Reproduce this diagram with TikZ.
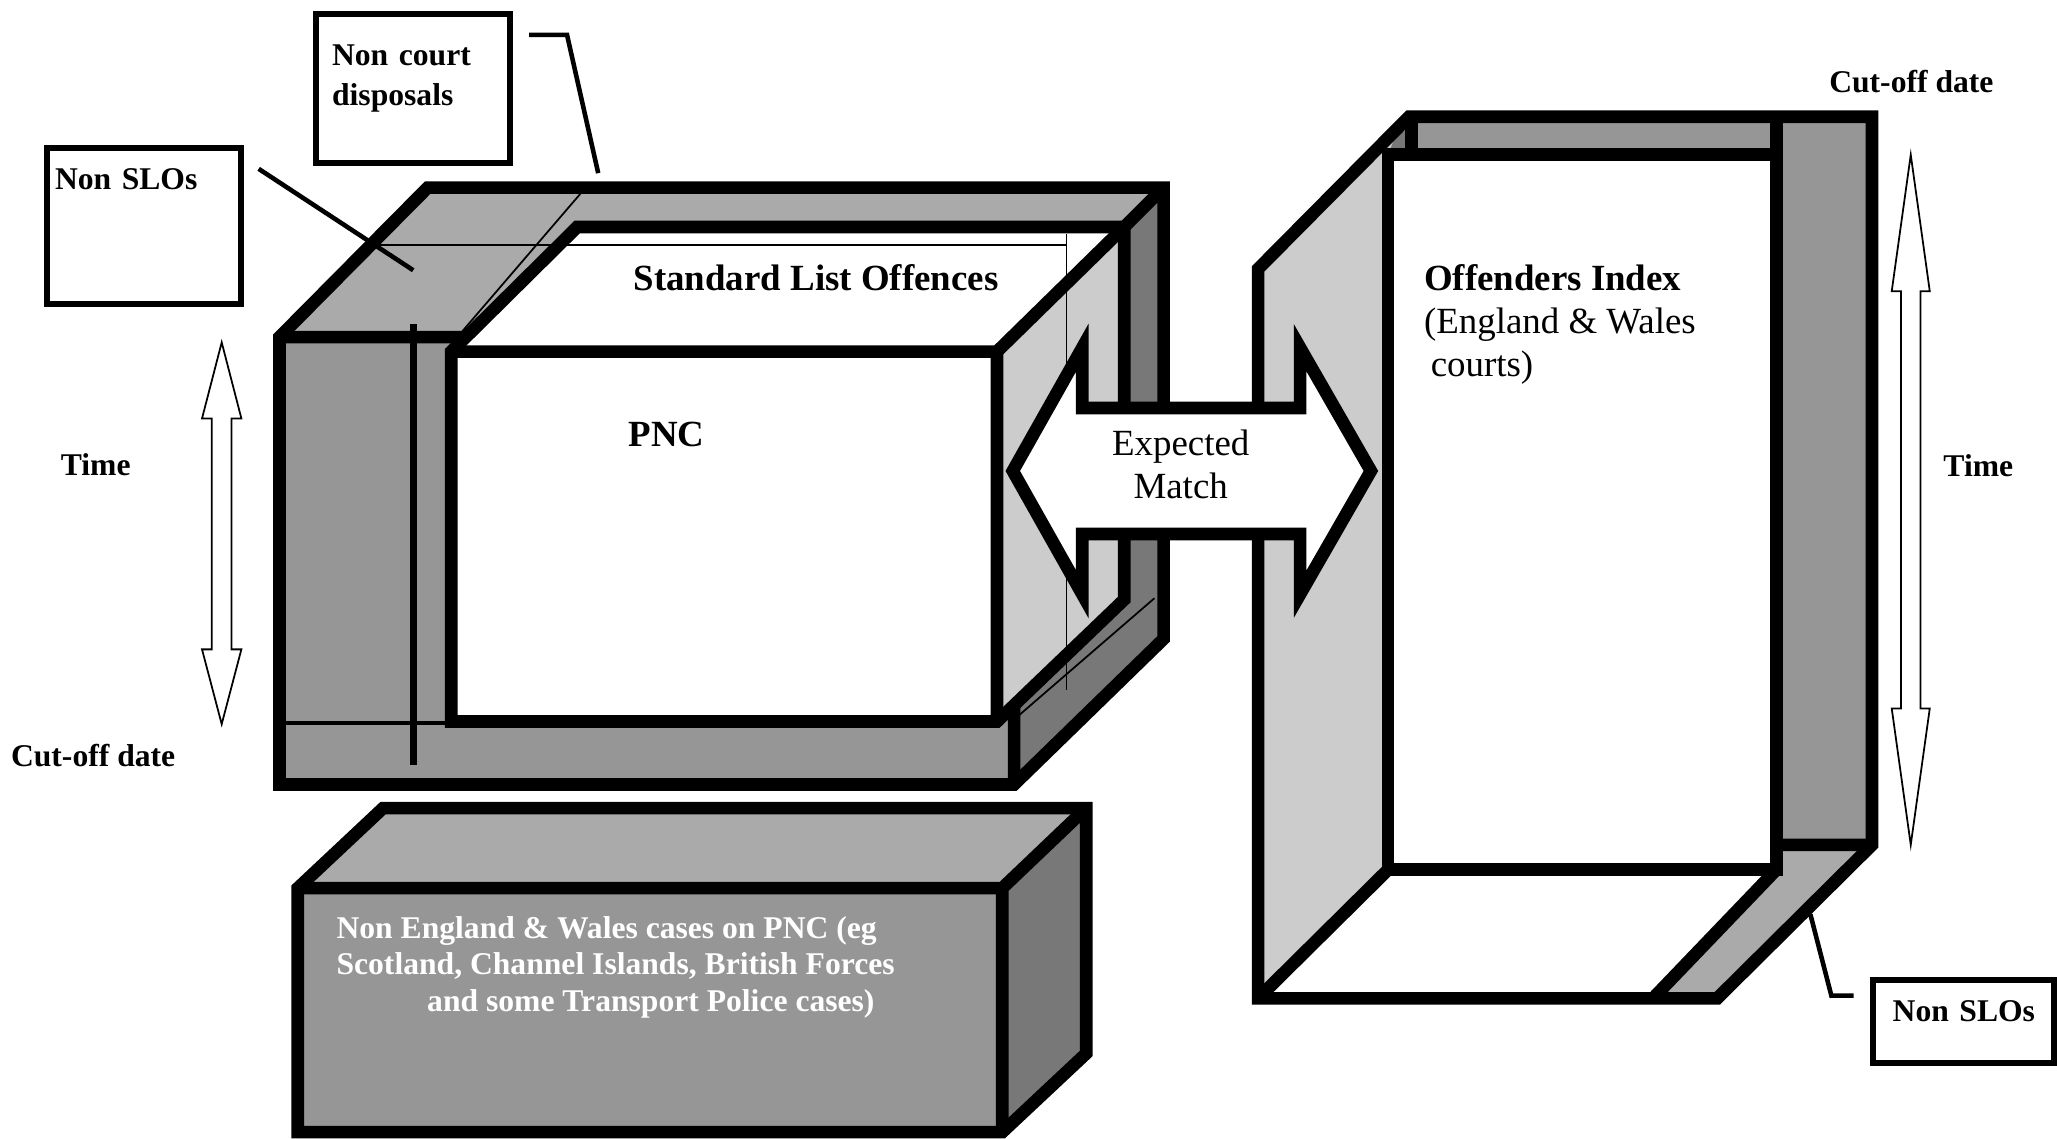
\documentclass[tikz,border=0pt]{standalone}
\usepackage{fontspec}
\setmainfont{Liberation Serif}
\definecolor{topgrey}{HTML}{AAAAAA}
\definecolor{frontgrey}{HTML}{969696}
\definecolor{sidegrey}{HTML}{787878}
\definecolor{palegrey}{HTML}{CCCCCC}
\tikzset{
  frame/.style={line width=3.6pt},
  hair/.style={line width=0.5pt},
  callout/.style={line width=1.3pt},
  notebox/.style={draw,line width=1.7pt,inner ysep=0pt,font=\fontsize{9}{11.2}\selectfont\bfseries},
  tag/.style={font=\fontsize{9}{10.4}\selectfont\bfseries},
  maintext/.style={font=\fontsize{10.5}{12.3}\selectfont}
}
\begin{document}
\begin{tikzpicture}[x=0.01312cm,y=-0.01312cm]
%\draw[help lines] (0,0) grid (1568,868);
\useasboundingbox (0,0) rectangle (1568,868);
% PNC frame
\fill[frontgrey] (213,257) rectangle (773,598);
\fill[topgrey] (213,257) -- (326,143) -- (887,143) -- (773,257) -- cycle;
\fill[sidegrey] (773,257) -- (887,143) -- (887,487) -- (773,598) -- cycle;
\draw[frame] (213,257) -- (773,257) -- (887,143) (773,257) -- (773,598);
\draw[frame] (213,257) -- (326,143) -- (887,143) -- (887,487) -- (773,598) -- (213,598) -- cycle;
\draw[line width=1.1pt] (213,551) -- (344,551);
\fill[white] (344,268) -- (440,173) -- (857,173) -- (760,268) -- cycle;
\fill[palegrey] (760,268) -- (857,173) -- (857,457) -- (760,550) -- cycle;
\fill[white] (344,268) rectangle (760,550);
\draw[frame] (344,268) -- (760,268) -- (857,173) (760,268) -- (760,550);
\draw[frame] (344,268) -- (440,173) -- (857,173) -- (857,457) -- (760,550) -- (344,550) -- cycle;
\draw[hair] (283,187) -- (813,187);
\draw[hair] (813,178) -- (813,526);
\draw[hair] (443,147) -- (352,253);
\draw[hair] (880,456) -- (777,545);
\draw[line width=2pt] (315,247) -- (315,583);
\node[maintext] (slo) at (622,212) {\textbf{Standard List Offences}};
\node[maintext] (pnc) at (508,331) {\textbf{PNC}};
% non E&W box
\fill[frontgrey] (227,677) rectangle (764,863);
\fill[topgrey] (227,677) -- (292,616) -- (828,616) -- (764,677) -- cycle;
\fill[sidegrey] (764,677) -- (828,616) -- (828,803) -- (764,863) -- cycle;
\draw[frame] (227,677) -- (764,677) -- (828,616) (764,677) -- (764,863);
\draw[frame] (227,677) -- (292,616) -- (828,616) -- (828,803) -- (764,863) -- (227,863) -- cycle;
\node[tag,text=white,align=left,anchor=north west,inner sep=0pt] (nonew) at (256,698)
  {Non England \& Wales cases on PNC (eg\\Scotland, Channel Islands, British Forces\\\hspace*{25.8pt}and some Transport Police cases)};
% Offenders Index frame
\fill[frontgrey] (959,205) -- (1074,89) -- (1427,89) -- (1427,644) -- (1309,761) -- (959,761) -- cycle;
\fill[topgrey] (1260,761) -- (1354,663) -- (1354,644) -- (1427,644) -- (1309,761) -- cycle;
\fill[palegrey] (959,205) -- (1074,89) -- (1058,118) -- (1058,663) -- (959,761) -- cycle;
\fill[sidegrey] (1062,108) -- (1076,94) -- (1076,118) -- (1058,118) -- cycle;
\fill[white] (959,761) -- (1058,663) -- (1354,663) -- (1260,761) -- cycle;
\fill[white] (1058,118) rectangle (1354,663);
\draw[frame] (1058,118) rectangle (1354,663);
\draw[frame] (1354,89) -- (1354,118) (1076,89) -- (1076,118);
\draw[frame] (959,761) -- (1058,663) (1354,663) -- (1260,761) (1354,644) -- (1427,644);
\draw[frame] (959,205) -- (1074,89) -- (1427,89) -- (1427,644) -- (1309,761) -- (959,761) -- cycle;
\node[maintext,align=left,anchor=north west,inner sep=0pt] (oi) at (1085,201)
  {\textbf{Offenders Index}\\(England \& Wales\\\hspace*{1.9pt}courts)};
% expected match
\filldraw[frame,fill=white] (772,359) -- (825,265) -- (825,311) -- (991,311) -- (991,265) -- (1045,359)
  -- (991,453) -- (991,407) -- (825,407) -- (825,453) -- cycle;
\node[maintext,align=center,anchor=north,inner sep=0pt] (match) at (900,327) {Expected\\Match};
% time arrows
\filldraw[hair,fill=white] (169,261) -- (184,319) -- (176.5,319) -- (176.5,495) -- (184,495) -- (169,552)
  -- (154,495) -- (161.5,495) -- (161.5,319) -- (154,319) -- cycle;
\filldraw[hair,fill=white] (1456.5,118) -- (1471,222) -- (1464,222) -- (1464,540) -- (1471,540) -- (1456.5,644)
  -- (1442,540) -- (1449,540) -- (1449,222) -- (1442,222) -- cycle;
\node[tag] (timel) at (73,354) {Time};
\node[tag] (cutl) at (71,576) {Cut-off date};
\node[tag] (timer) at (1508,355) {Time};
\node[tag] (cutr) at (1457,62) {Cut-off date};
% notes
\node[notebox,text width=46.2pt,inner xsep=4.5pt,text height=14.6pt,text depth=27.6pt,align=left] (ncd) at (315,67.5) {Non court\\disposals};
\node[notebox,text width=50.8pt,inner xsep=2.2pt,text height=11.6pt,text depth=32.8pt,align=left] (nslo) at (110,172.5) {Non SLOs};
\node[notebox,text width=47.5pt,inner xsep=2pt,text height=11.9pt,text depth=11.6pt,align=center] (nslor) at (1497,778.5) {Non SLOs};
\coordinate (ncdend) at (456,132);
\coordinate (nsloend) at (315,206);
\coordinate (nslorend) at (1380,697);
\draw[callout] ([xshift=4.5pt,yshift=-6.7pt]ncd.north east) -- ++(29,0) -- (ncdend);
\draw[callout] ([xshift=4.1pt,yshift=-6.7pt]nslo.north east) -- (nsloend);
\draw[callout] (nslorend) -- ++(16,62) -- ([xshift=-4.8pt,yshift=7.3pt]nslor.west);
\end{tikzpicture}
\end{document}
